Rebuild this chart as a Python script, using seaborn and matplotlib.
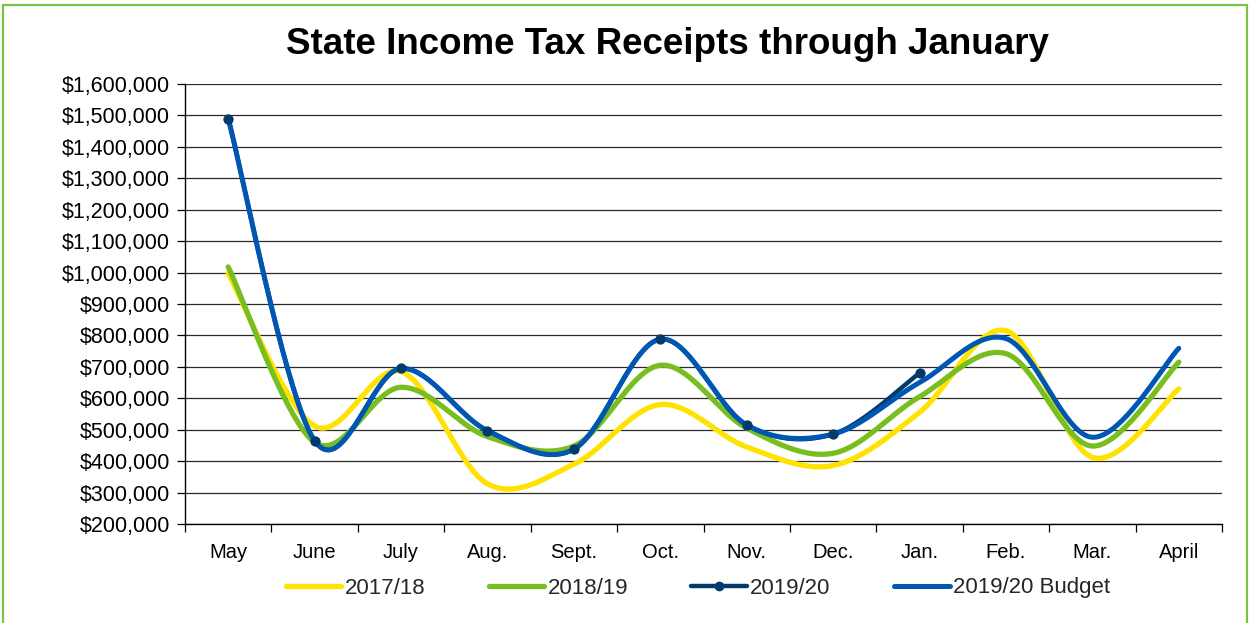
import numpy as np
import matplotlib
matplotlib.use("Agg")
import matplotlib.pyplot as plt
import seaborn as sns
from matplotlib.patches import Rectangle
from matplotlib.lines import Line2D
from matplotlib.ticker import FuncFormatter, FixedLocator, MultipleLocator, NullFormatter

months = ["May", "June", "July", "Aug.", "Sept.", "Oct.", "Nov.", "Dec.",
          "Jan.", "Feb.", "Mar.", "April"]
fy_2017_18 = [997000, 512000, 685000, 328000, 390000, 580000, 445000, 386000,
              555000, 815000, 412000, 630000]
fy_2018_19 = [1018000, 460000, 635000, 478000, 448000, 705000, 505000, 425000,
              605000, 742000, 448000, 715000]
fy_2019_20 = [1490000, 465000, 695000, 497000, 438000, 788000, 515000, 486000,
              680000]
fy_2019_20_budget = [1490000, 465000, 695000, 497000, 438000, 788000, 515000,
                     486000, 650000, 790000, 476000, 759000]

YELLOW = "#FFE200"
GREEN = "#78BE20"
NAVY = "#033A6B"
BLUE = "#0057B2"
FRAME = "#7DC242"


def smooth(values, steps=40):
    """Bezier smoothing through every point (spreadsheet-style smoothed line)."""
    pts = np.column_stack([np.arange(len(values)), values]).astype(float)
    n = len(pts)
    t = np.linspace(0, 1, steps)[1:, None]
    out = [pts[0]]
    for i in range(n - 1):
        p0 = pts[max(i - 1, 0)]
        p1 = pts[i]
        p2 = pts[i + 1]
        p3 = pts[min(i + 2, n - 1)]
        b1 = p1 + (p2 - p0) / 6.0
        b2 = p2 - (p3 - p1) / 6.0
        seg = ((1 - t) ** 3) * p1 + 3 * ((1 - t) ** 2) * t * b1 \
            + 3 * (1 - t) * (t ** 2) * b2 + (t ** 3) * p2
        out.extend(seg)
    out = np.array(out)
    return out[:, 0], out[:, 1]


sns.set_theme(style="white")
plt.rcParams["font.family"] = ["Liberation Sans", "DejaVu Sans"]

fig = plt.figure(figsize=(12.5, 6.23), dpi=100)
ax = fig.add_axes([185 / 1250, 1 - 524 / 623, (1222 - 185) / 1250, (524 - 84) / 623])

series = [
    (fy_2017_18, YELLOW, 3.8, 2),
    (fy_2018_19, GREEN, 3.8, 3),
    (fy_2019_20, NAVY, 3.2, 4),
    (fy_2019_20_budget, BLUE, 3.6, 5),
]
for vals, color, lw, z in series:
    sx, sy = smooth(vals)
    sns.lineplot(x=sx, y=sy, ax=ax, color=color, linewidth=lw, sort=False,
                 estimator=None, zorder=z, solid_capstyle="round")

sns.scatterplot(x=np.arange(len(fy_2019_20)), y=fy_2019_20, ax=ax, color=NAVY,
                s=55, edgecolor=NAVY, linewidth=0, zorder=6)

ax.set_xlim(-0.5, 11.5)
ax.set_ylim(200000, 1600000)
ax.yaxis.set_major_locator(MultipleLocator(100000))
ax.yaxis.set_major_formatter(FuncFormatter(lambda v, p: f"${v:,.0f}"))
ax.xaxis.set_major_locator(FixedLocator(np.arange(12)))
ax.set_xticklabels(months)
ax.xaxis.set_minor_locator(FixedLocator(np.arange(-0.5, 12, 1.0)))
ax.xaxis.set_minor_formatter(NullFormatter())

ax.grid(False)
ax.yaxis.grid(True, color="#2a2a2a", linewidth=0.9)
ax.set_axisbelow(True)

for side in ["top", "right"]:
    ax.spines[side].set_visible(False)
for side in ["left", "bottom"]:
    ax.spines[side].set_visible(True)
    ax.spines[side].set_color("black")
    ax.spines[side].set_linewidth(1.0)

ax.tick_params(axis="y", which="major", direction="out", length=6, width=0.9,
               color="black", labelsize=15.5, labelcolor="black", pad=5, left=True)
ax.tick_params(axis="x", which="major", length=0, labelsize=14.5,
               labelcolor="black", pad=14)
ax.tick_params(axis="x", which="minor", direction="out", length=6, width=0.9,
               color="black", bottom=True)
ax.set_xlabel("")
ax.set_ylabel("")

fig.text(668 / 1250, 1 - 44 / 623, "State Income Tax Receipts through January",
         ha="center", va="center", fontsize=26.5, fontweight="bold", color="black")

handles = [
    Line2D([], [], color=YELLOW, lw=3.8, solid_capstyle="round"),
    Line2D([], [], color=GREEN, lw=3.8, solid_capstyle="round"),
    Line2D([], [], color=NAVY, lw=3.2, marker="o", markersize=6,
           solid_capstyle="round"),
    Line2D([], [], color=BLUE, lw=3.6, solid_capstyle="round"),
]
labels = ["2017/18", "2018/19", "2019/20", "2019/20 Budget"]
fig.legend(handles, labels, loc="center", bbox_to_anchor=(698 / 1250, 1 - 588 / 623),
           ncol=4, frameon=False, fontsize=16, handlelength=2.5,
           handletextpad=0.15, columnspacing=2.85, borderpad=0)

fig.add_artist(Rectangle((3 / 1250, -0.05), (1247 - 3) / 1250, 1.05 - 5 / 623,
                         transform=fig.transFigure, fill=False, edgecolor=FRAME,
                         linewidth=1.6, clip_on=False))

fig.savefig("out.png", dpi=100, facecolor="white")
